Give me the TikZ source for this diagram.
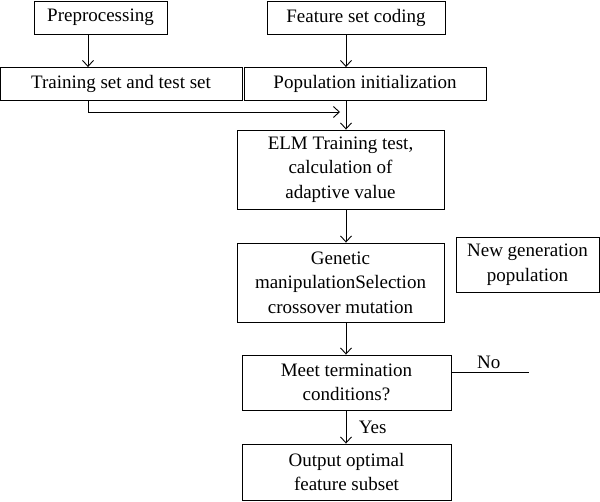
\documentclass[tikz,border=0pt]{standalone}
\usepackage{fontspec}
\setmainfont{Liberation Serif}
\usepackage{tikz}
\usetikzlibrary{positioning,arrows.meta}

\begin{document}
\begin{tikzpicture}[x=1pt,y=-1pt,
    box/.style={draw, line width=0.9pt, align=center, inner sep=2pt,
                font=\fontsize{19}{24.5}\selectfont},
    arr/.style={line width=0.9pt, -{Straight Barb[length=6pt,width=11pt]}},
    lbl/.style={font=\fontsize{19}{24}\selectfont}]
    \useasboundingbox (0,0) rectangle (600,501);
    % columns of the arrows
    \coordinate (lcol) at (88,0);
    \coordinate (mcol) at (346,0);

    \node[box, minimum width=133pt, minimum height=33pt] (pre)  at (100.5,17.5) {Preprocessing};
    \node[box, minimum width=178pt, minimum height=33pt] (feat) at (356,17.5)   {Feature set coding};
    \node[box, minimum width=242pt, minimum height=33pt] (train) at (121,84)    {Training set and test set};
    \node[box, minimum width=242pt, minimum height=33pt] (popu) at (365,84)     {Population initialization};
    \node[box, minimum width=207pt, minimum height=79pt] (elm)  at (340.5,169.5)
      {ELM Training test,\\calculation of\\adaptive value};
    \node[box, minimum width=207pt, minimum height=79pt] (gen)  at (340.5,282.5)
      {Genetic\\manipulationSelection\\crossover mutation};
    \node[box, minimum width=143pt, minimum height=55pt] (newgen) at (527.5,264.5)
      {New generation\\population};
    \node[box, minimum width=209pt, minimum height=55pt] (meet) at (346.5,382.5)
      {Meet termination\\conditions?};
    \node[box, minimum width=209pt, minimum height=56pt] (out)  at (346.5,472)
      {Output optimal\\feature subset};

    \coordinate (join)  at (346,112);
    \coordinate (noend) at (529,372);

    \draw[arr] (pre.south -| lcol) -- (train.north -| lcol);
    \draw[arr] (feat.south -| mcol) -- (popu.north -| mcol);
    \draw[arr, shorten >=6pt] (train.south -| lcol) |- (join);
    \draw[arr] (popu.south -| mcol) -- (elm.north -| mcol);
    \draw[arr] (elm.south -| mcol) -- (gen.north -| mcol);
    \draw[arr] (gen.south -| mcol) -- (meet.north -| mcol);
    \draw[line width=0.9pt] (meet.east |- noend) -- (noend)
      node[lbl, pos=0.48, above=0pt] (no) {No};
    \draw[arr] (meet.south -| mcol) -- (out.north -| mcol)
      node[lbl, midway, right=9pt] (yes) {Yes};
\end{tikzpicture}
\end{document}
